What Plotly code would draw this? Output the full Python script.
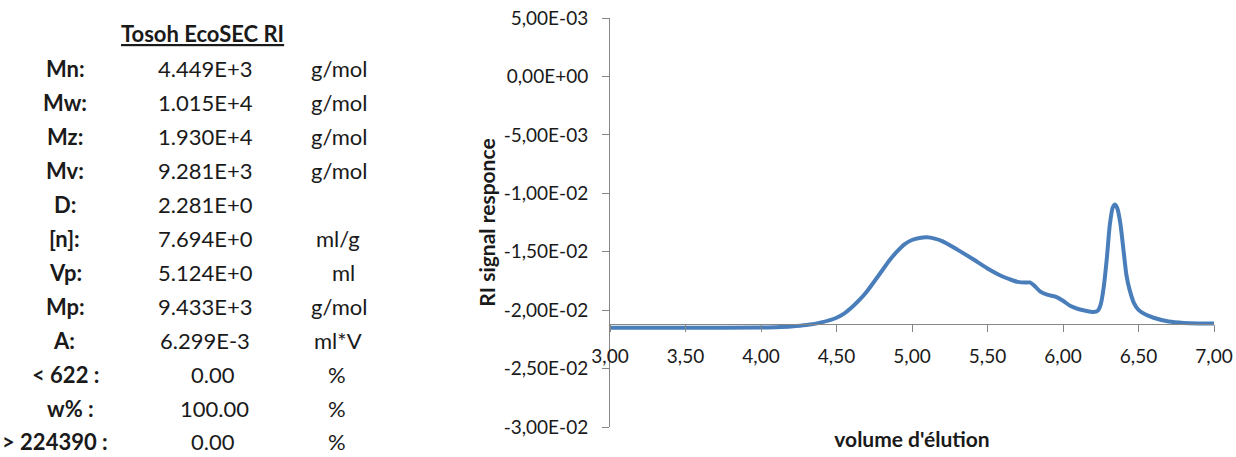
import plotly.graph_objects as go

# ---------------- data ----------------
volume = [3.00, 3.50, 4.00, 4.10, 4.20, 4.30, 4.40, 4.50, 4.55, 4.60, 4.65, 4.70,
          4.75, 4.80, 4.85, 4.90, 4.95, 5.00, 5.05, 5.10, 5.15, 5.20, 5.30, 5.40,
          5.50, 5.60, 5.65, 5.70, 5.75, 5.78, 5.81, 5.85, 5.90, 5.95, 6.00, 6.05,
          6.10, 6.15, 6.20, 6.23, 6.25, 6.27, 6.29, 6.31, 6.33, 6.345, 6.36, 6.38,
          6.40, 6.42, 6.44, 6.47, 6.50, 6.55, 6.60, 6.70, 6.80, 6.90, 7.00]
signal = [-0.02150, -0.02150, -0.02149, -0.02146, -0.02140, -0.02128, -0.02105,
          -0.02065, -0.02030, -0.01978, -0.01915, -0.01842, -0.01755, -0.01665,
          -0.01575, -0.01500, -0.01437, -0.01400, -0.01382, -0.01377, -0.01388,
          -0.01410, -0.01482, -0.01560, -0.01643, -0.01712, -0.01737, -0.01758,
          -0.01764, -0.01763, -0.01790, -0.01842, -0.01870, -0.01885, -0.01920,
          -0.01965, -0.01990, -0.02005, -0.02016, -0.02005, -0.01950, -0.01800,
          -0.01560, -0.01270, -0.01120, -0.01095, -0.01130, -0.01260, -0.01480,
          -0.01700, -0.01820, -0.01940, -0.01998, -0.02040, -0.02065, -0.02098,
          -0.02110, -0.02114, -0.02115]

x_tickvals = [3.0, 3.5, 4.0, 4.5, 5.0, 5.5, 6.0, 6.5, 7.0]
x_ticktext = ["3,00", "3,50", "4,00", "4,50", "5,00", "5,50", "6,00", "6,50", "7,00"]
y_tickvals = [0.005, 0.0, -0.005, -0.01, -0.015, -0.02, -0.025, -0.03]
y_ticktext = ["5,00E-03", "0,00E+00", "-5,00E-03", "-1,00E-02", "-1,50E-02",
              "-2,00E-02", "-2,50E-02", "-3,00E-02"]
x_axis_cross = -0.0212

table_title = "Tosoh EcoSEC RI"
table_labels = ["Mn:", "Mw:", "Mz:", "Mv:", "D:", "[n]:", "Vp:", "Mp:", "A:",
                "< 622 :", "w% :", "> 224390 :"]
table_values = ["4.449E+3", "1.015E+4", "1.930E+4", "9.281E+3", "2.281E+0",
                "7.694E+0", "5.124E+0", "9.433E+3", "6.299E-3", "0.00", "100.00", "0.00"]
table_units = ["g/mol", "g/mol", "g/mol", "g/mol", "", "ml/g", "ml", "g/mol",
               "ml*V", "%", "%", "%"]

# ---------------- layout geometry (pixels) ----------------
W, H = 1236, 457
L, R, T, B = 610, 22, 18, 30
PW, PH = W - L - R, H - T - B
FONT = "Lato, 'Open Sans', sans-serif"
TXT = "#1a1a1a"
TABLE_SIZE = 22
label_cx = [65, 65, 65, 65, 65, 64, 65, 65, 64, 65, 70, 0]
label_anchor = ["center"] * 11 + ["left"]
value_cx = [205] * 9 + [213, 214, 213]
unit_cx = [339, 339, 339, 339, 339, 338, 343, 339, 338, 337, 337, 337]
row_y0, row_dy = 69, 33.9


def px(xp):
    return (xp - L) / PW


def py(yp):
    return (H - B - yp) / PH


fig = go.Figure()
fig.add_trace(go.Scatter(
    x=volume, y=signal, mode="lines",
    line=dict(color="#4A7EBB", width=4, shape="spline", smoothing=0.6),
    showlegend=False, hoverinfo="x+y"))

annotations = []
annotations.append(dict(
    x=px(202), y=py(34), xref="paper", yref="paper", showarrow=False,
    text="<b><span style='text-decoration:underline'>" + table_title + "</span></b>",
    font=dict(family=FONT, size=TABLE_SIZE, color=TXT), xanchor="center", yanchor="middle"))
for i, (lab, val, unit) in enumerate(zip(table_labels, table_values, table_units)):
    yy = py(row_y0 + i * row_dy)
    annotations.append(dict(x=px(label_cx[i]), y=yy, xref="paper", yref="paper",
                            showarrow=False, text="<b>" + lab + "</b>",
                            font=dict(family=FONT, size=TABLE_SIZE, color=TXT),
                            xanchor=label_anchor[i], yanchor="middle"))
    annotations.append(dict(x=px(value_cx[i]), y=yy, xref="paper", yref="paper",
                            showarrow=False, text=val,
                            font=dict(family=FONT, size=TABLE_SIZE, color=TXT),
                            xanchor="center", yanchor="middle"))
    if unit:
        annotations.append(dict(x=px(unit_cx[i]), y=yy, xref="paper", yref="paper",
                                showarrow=False, text=unit,
                                font=dict(family=FONT, size=TABLE_SIZE, color=TXT),
                                xanchor="center", yanchor="middle"))

y_min, y_max = -0.03, 0.005
fig.update_layout(
    width=W, height=H,
    margin=dict(l=L, r=R, t=T, b=B, pad=0, autoexpand=False),
    paper_bgcolor="white", plot_bgcolor="white",
    font=dict(family=FONT, size=19, color=TXT),
    annotations=annotations,
    xaxis=dict(
        range=[3, 7], tickvals=x_tickvals, ticktext=x_ticktext,
        anchor="free", position=(x_axis_cross - y_min) / (y_max - y_min),
        showline=True, linecolor="#868686", linewidth=1,
        ticks="outside", ticklen=7, tickcolor="#868686", ticklabelstandoff=8,
        showgrid=False, zeroline=False, automargin=False,
        tickfont=dict(family=FONT, size=19, color=TXT),
        title=dict(text="<b>volume d'élution</b>", standoff=66,
                   font=dict(family=FONT, size=21, color=TXT)),
    ),
    yaxis=dict(
        range=[y_min, y_max], tickvals=y_tickvals, ticktext=y_ticktext,
        showline=True, linecolor="#868686", linewidth=1,
        ticks="outside", ticklen=7, tickcolor="#868686", ticklabelstandoff=10,
        showgrid=False, zeroline=False, automargin=False,
        tickfont=dict(family=FONT, size=19, color=TXT),
        title=dict(text="<b>RI signal responce</b>", standoff=2,
                   font=dict(family=FONT, size=21, color=TXT)),
    ),
)

fig.write_html("out.html", config={"displayModeBar": False, "responsive": False})

# remove the default page margin so the figure sits at the window's top-left corner
with open("out.html", "r", encoding="utf-8") as f:
    html = f.read()
html = html.replace("<head>", "<head><style>html,body{margin:0;padding:0;overflow:hidden;}</style>", 1)
with open("out.html", "w", encoding="utf-8") as f:
    f.write(html)
